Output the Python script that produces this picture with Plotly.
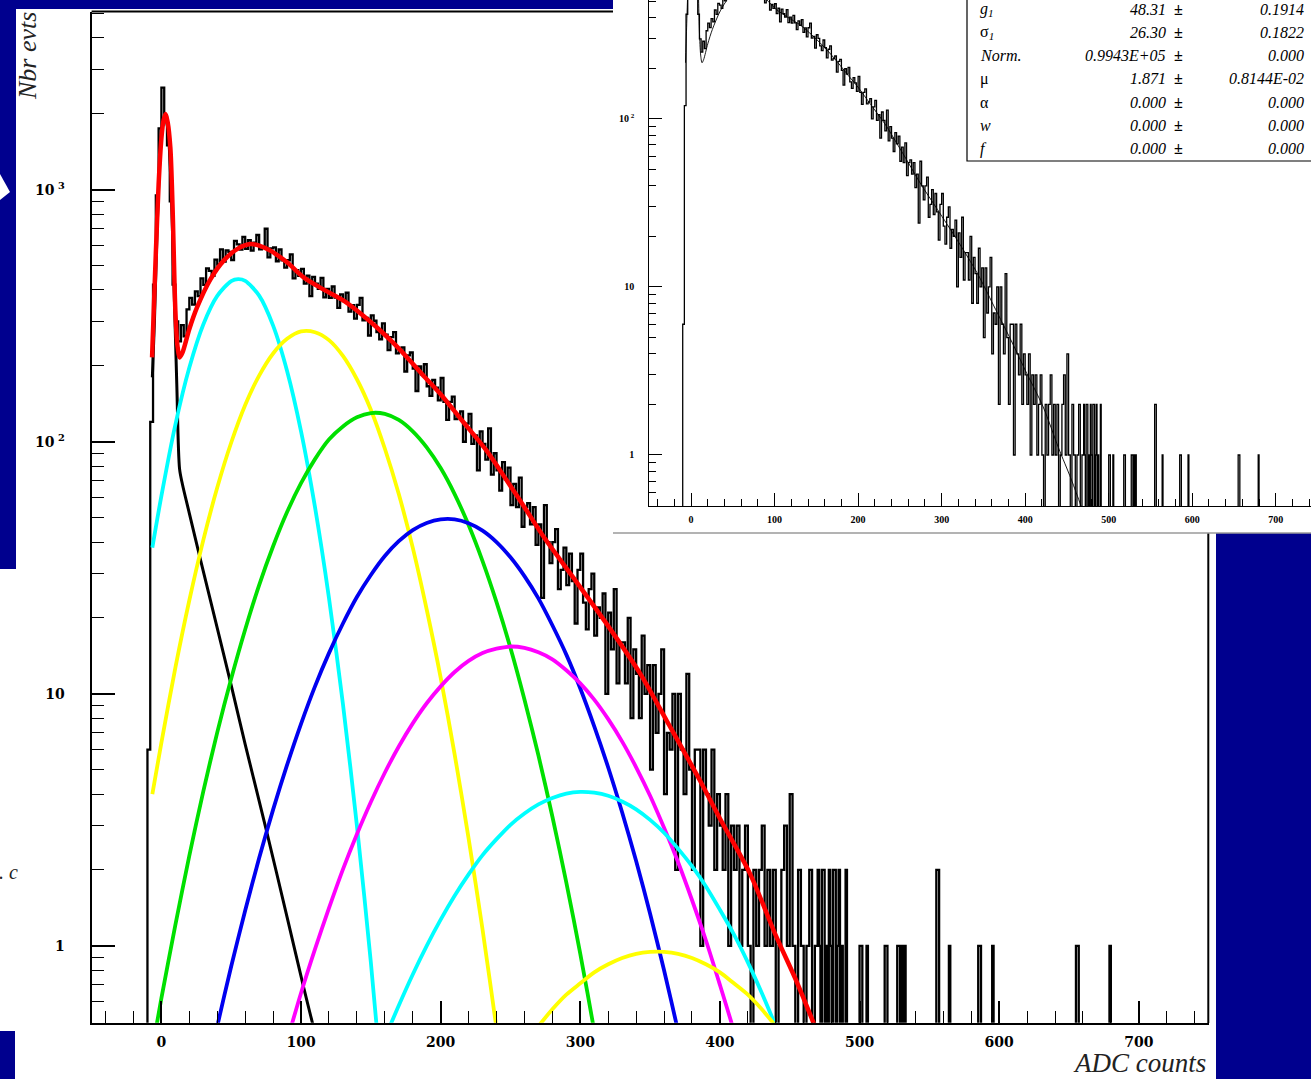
import plotly.graph_objects as go

W, H = 1311, 1079

# ---------------- data ----------------
# ADC histogram, 2-ADC-wide bins starting at -10 (counts per 1-ADC bin)
dense_lo = -10
dense_width = 2
dense_counts = [
    6, 120, 420, 950, 1750, 2540, 1950, 1500, 900, 420,
    300, 250, 290, 262, 335, 372, 350, 395, 378, 445,
    419, 487, 476, 455, 528, 505, 580, 518, 574, 566,
    526, 627, 607, 578, 650, 582, 630, 573, 616, 661,
    580, 591, 700, 539, 585, 590, 520, 579, 524, 491,
    525, 554, 445, 480, 455, 485, 424, 456, 378, 451,
    424, 404, 447, 374, 404, 372, 413, 373, 340, 384,
    361, 390, 328, 348, 308, 349, 372, 303, 310, 264,
    317, 302, 272, 255, 295, 266, 231, 260, 272, 224,
    229, 237, 190, 220, 226, 195, 159, 199, 185, 203,
    166, 152, 176, 164, 146, 179, 144, 122, 144, 151,
    123, 126, 132, 100, 118, 129, 98, 106, 77, 110,
    98, 85, 113, 74, 90, 77, 64, 83, 71, 79,
    56, 68, 55, 72, 46, 55, 57, 47, 55, 39,
    47, 24, 56, 40, 33, 40, 45, 26, 31, 38,
    27, 36, 28, 19, 31, 36, 23, 18, 26, 30,
    17, 22, 20, 25, 10, 21, 15, 26, 11, 16,
    16, 11, 20, 8, 15, 12, 8, 17, 10, 13,
    5, 13, 7, 10, 15, 4, 7, 6, 10, 2,
    10, 6, 4, 12, 5, 2, 6, 6, 1, 6,
    4, 3, 6, 2, 4, 3, 2, 4, 1, 3,
    2, 3, 1, 2, 3, 1, 0, 2, 1, 2,
    3, 1, 2, 1, 2, 0, 1, 2, 3, 1,
    4, 1, 0, 2, 1, 0, 1, 2, 0, 1,
]
# sparse tail: single 1-ADC bins (lower edge) and their counts
tail_adc = [470, 471, 473, 474, 476, 478, 479, 481, 482, 484, 485, 487, 490,
            500, 501, 505, 518, 519, 527, 528, 530, 532, 555, 556, 564,
            585, 586, 595, 655, 656, 679]
tail_counts = [2, 1, 2, 2, 1, 2, 1, 2, 2, 1, 2, 1, 2,
               1, 1, 1, 1, 1, 1, 1, 1, 1, 2, 2, 1,
               1, 1, 1, 1, 1, 1]

# fit components (sampled along each drawn curve)
ped_x = [-6.5, -5, -3, -1, 1, 3, 5, 7, 9, 11, 13, 15, 20, 28, 40, 50, 60, 75, 90, 102, 110, 120]
ped_y = [180, 300, 720, 1350, 1820, 1920, 1650, 1000, 420, 170, 78, 68, 52, 34, 18.2, 10.8, 6.3, 2.9, 1.3, 0.68, 0.45, 0.27]

pe1_x = [-6.5, 0, 10, 20, 30, 40, 50, 55, 60, 70, 80, 90, 100, 110, 120, 130, 140, 150, 160]
pe1_y = [38, 61, 117, 197, 292, 379, 434, 442, 435, 380, 289, 191, 110, 55, 24, 9.1, 3.0, 0.86, 0.21]

pe2_x = [-6.5, 0, 10, 20, 30, 40, 50, 60, 70, 80, 90, 100, 110, 120, 130, 140, 150, 160, 170,
         180, 190, 200, 210, 220, 230, 240, 250]
pe2_y = [4.0, 6.4, 12.7, 23.5, 40.7, 65.8, 99.3, 140, 183, 224, 256, 274, 272, 253, 219, 177, 134, 94, 62,
         38, 21.6, 11.6, 5.75, 2.67, 1.16, 0.47, 0.18]

pe3_x = [-6.5, 0, 10, 20, 30, 40, 50, 60, 70, 80, 90, 100, 110, 120, 130, 140, 150, 160, 170, 180,
         190, 200, 210, 220, 230, 240, 250, 260, 270, 280, 290, 300, 310, 320]
pe3_y = [0.39, 0.62, 1.21, 2.28, 4.10, 7.03, 11.5, 18.0, 27.0, 38.5, 52.6, 68.5, 85.3, 102, 115, 125, 130, 129, 122, 110,
         95, 78.6, 62, 46.7, 33.6, 23.1, 15.2, 9.5, 5.7, 3.26, 1.78, 0.93, 0.46, 0.22]

pe4_x = [30, 40, 50, 60, 70, 80, 90, 100, 110, 120, 130, 140, 150, 160, 170, 180, 190, 200, 210,
         220, 230, 240, 250, 260, 270, 280, 290, 300, 310, 320, 330, 340, 350, 360, 370, 380]
pe4_y = [0.27, 0.48, 0.83, 1.38, 2.23, 3.47, 5.22, 7.60, 10.7, 14.5, 19.0, 24.2, 29.6, 35.2, 40.3, 44.6, 47.6, 49.2, 49.2,
         47.5, 44.4, 40.0, 34.8, 29.3, 23.9, 18.7, 14.3, 10.5, 7.43, 5.10, 3.38, 2.17, 1.34, 0.80, 0.46, 0.26]

pe5_x = [90, 100, 110, 120, 130, 140, 150, 160, 170, 180, 190, 200, 210, 220, 230, 240, 250,
         260, 270, 280, 290, 300, 310, 320, 330, 340, 350, 360, 370, 380, 390, 400, 410, 420]
pe5_y = [0.42, 0.65, 0.97, 1.41, 2.01, 2.77, 3.72, 4.86, 6.18, 7.63, 9.17, 10.7, 12.2, 13.5, 14.5, 15.1, 15.4,
         15.2, 14.6, 13.7, 12.4, 11.0, 9.48, 7.93, 6.46, 5.11, 3.94, 2.94, 2.15, 1.52, 1.05, 0.70, 0.46, 0.29]

pe6_x = [160, 170, 180, 190, 200, 210, 220, 230, 240, 250, 260, 270, 280, 290, 300,
         310, 320, 330, 340, 350, 360, 370, 380, 390, 400, 410, 420, 430, 440, 450]
pe6_y = [0.43, 0.58, 0.77, 1.00, 1.27, 1.58, 1.92, 2.29, 2.65, 3.02, 3.35, 3.64, 3.86, 4.02, 4.08,
         4.05, 3.94, 3.74, 3.48, 3.16, 2.81, 2.43, 2.07, 1.72, 1.39, 1.11, 0.86, 0.65, 0.48, 0.35]

pe7_x = [260, 270, 280, 290, 300, 310, 320, 330, 340, 350, 360, 370, 380, 390, 400, 410, 420, 430, 440, 450]
pe7_y = [0.41, 0.48, 0.56, 0.64, 0.71, 0.785, 0.845, 0.895, 0.93, 0.946, 0.946, 0.93, 0.895, 0.845, 0.785,
         0.71, 0.64, 0.56, 0.48, 0.41]

fit_x = [-6.7, -5.5, -4, -2, 0, 1.5, 3, 4.5, 6.4, 8, 10, 11.5, 13.1, 15, 20, 25.5, 35, 44.6, 55, 63.7,
         70, 78, 90, 101.9, 115, 130.5, 145, 154.4, 165, 176, 188, 199.7, 215, 233, 247.5, 260, 275,
         295, 319, 343, 362, 385.8, 400, 421.6, 440, 455, 466.7, 475]
fit_y = [216, 330, 560, 1050, 1600, 1880, 1995, 1850, 1468, 850, 330, 240, 216, 225, 280, 341, 440, 523, 585, 609,
         600, 573, 515, 449, 405, 363, 315, 284, 250, 216, 182, 155, 122, 92, 70, 55, 41,
         28.9, 18.9, 12, 7.8, 4.52, 3.2, 1.93, 1.1, 0.72, 0.5, 0.38]

x_ticks = [0, 100, 200, 300, 400, 500, 600, 700]
y_ticks = [1, 10, 100, 1000]
y_ticktext = ["1", "10", "10<sup> 2</sup>", "10<sup> 3</sup>"]
inset_y_ticks = [1, 10, 100]
inset_y_ticktext = ["1", "10", "10<sup> 2</sup>"]

stat_names = ["<i>g</i><sub><i>1</i></sub>", "σ<sub><i>1</i></sub>", "<i>Norm.</i>", "μ", "α", "<i>w</i>", "<i>f</i>"]
stat_values = ["48.31", "26.30", "0.9943E+05", "1.871", "0.000", "0.000", "0.000"]
stat_errors = ["0.1914", "0.1822", "0.000", "0.8144E-02", "0.000", "0.000", "0.000"]

# ---------------- build histogram step line ----------------
XMIN, XMAX = -50, 750
counts = [0] * (XMAX - XMIN)
for i, c in enumerate(dense_counts):
    lo = dense_lo + i * dense_width
    for k in range(dense_width):
        counts[lo + k - XMIN] = c
for a, c in zip(tail_adc, tail_counts):
    counts[a - XMIN] = c
FLOOR = 1e-3  # empty bins drop below the axis
hist_x = list(range(XMIN, XMAX + 1))
hist_y = [c if c > 0 else FLOOR for c in counts]
hist_y = hist_y + [hist_y[-1]]

NAVY = "#00008E"


def px(x):
    return x / W


def py(y):
    return 1 - y / H


fig = go.Figure()

# main histogram
fig.add_trace(go.Scatter(x=hist_x, y=hist_y, mode="lines", line=dict(color="black", width=2.3, shape="hv"),
                         xaxis="x", yaxis="y", hoverinfo="skip"))
comps = [
    (ped_x, ped_y, "black", 3),
    (pe1_x, pe1_y, "#00FFFF", 3.8),
    (pe2_x, pe2_y, "#FFFF00", 3.8),
    (pe3_x, pe3_y, "#00E000", 3.8),
    (pe4_x, pe4_y, "#0000F0", 3.8),
    (pe5_x, pe5_y, "#FF00FF", 3.8),
    (pe6_x, pe6_y, "#00FFFF", 3.8),
    (pe7_x, pe7_y, "#FFFF00", 3.8),
]
for cx, cy, col, lw in comps:
    fig.add_trace(go.Scatter(x=cx, y=cy, mode="lines",
                             line=dict(color=col, width=lw, shape="spline", smoothing=0.8),
                             xaxis="x", yaxis="y", hoverinfo="skip"))
fig.add_trace(go.Scatter(x=fit_x, y=fit_y, mode="lines",
                         line=dict(color="#FF0000", width=4.5, shape="spline", smoothing=0.8),
                         xaxis="x", yaxis="y", hoverinfo="skip"))

# inset
fig.add_trace(go.Scatter(x=hist_x, y=hist_y, mode="lines", line=dict(color="black", width=1.3, shape="hv"),
                         xaxis="x2", yaxis="y2", hoverinfo="skip"))
fig.add_trace(go.Scatter(x=fit_x, y=fit_y, mode="lines",
                         line=dict(color="black", width=0.9, shape="spline", smoothing=0.8),
                         xaxis="x2", yaxis="y2", hoverinfo="skip"))

main_minor_y = [0.6, 0.7, 0.8, 0.9, 2, 3, 4, 5, 6, 7, 8, 9, 20, 30, 40, 50, 60, 70, 80, 90,
                200, 300, 400, 500, 600, 700, 800, 900, 2000, 3000, 4000, 5000]

tick_font_main = dict(family="DejaVu Serif", size=14, color="black", weight="bold")
tick_font_inset = dict(family="Liberation Serif", size=10, color="black", weight="bold")

fig.update_layout(
    width=W, height=H, margin=dict(l=0, r=0, t=0, b=0),
    paper_bgcolor="white", plot_bgcolor="rgba(0,0,0,0)", showlegend=False,
    xaxis=dict(domain=[px(91.6), px(1208.6)], range=[XMIN, XMAX], anchor="y",
               showline=True, linecolor="black", linewidth=2, mirror=False,
               ticks="inside", ticklen=22, tickwidth=1.6, tickcolor="black",
               tickmode="array", tickvals=x_ticks, ticktext=[str(v) for v in x_ticks],
               tickfont=tick_font_main, ticklabelstandoff=5,
               minor=dict(ticks="inside", ticklen=12, tickwidth=1.4, tickcolor="black", dtick=20, tick0=0,
                          showgrid=False),
               showgrid=False, zeroline=False),
    yaxis=dict(domain=[py(1022.7), py(11.5)], type="log", range=[-0.305, 3.707], anchor="x",
               showline=True, linecolor="black", linewidth=2, mirror=False,
               ticks="inside", ticklen=23, tickwidth=1.6, tickcolor="black",
               tickmode="array", tickvals=y_ticks, ticktext=y_ticktext,
               tickfont=tick_font_main, ticklabelstandoff=22,
               minor=dict(ticks="inside", ticklen=12, tickwidth=1.4, tickcolor="black",
                          tickmode="array", tickvals=main_minor_y, showgrid=False),
               showgrid=False, zeroline=False),
    xaxis2=dict(domain=[px(649.3), 1.0], range=[-50, 742.2], anchor="y2",
                showline=True, linecolor="black", linewidth=1.3,
                ticks="inside", ticklen=13, tickwidth=1.1, tickcolor="black",
                tickmode="array", tickvals=x_ticks, ticktext=[str(v) for v in x_ticks],
                tickfont=tick_font_inset, ticklabelstandoff=4,
                minor=dict(ticks="inside", ticklen=7, tickwidth=1, tickcolor="black", dtick=20, tick0=0,
                           showgrid=False),
                showgrid=False, zeroline=False),
    yaxis2=dict(domain=[py(506), 1.0], type="log", range=[-0.3036, 2.708], anchor="x2",
                showline=True, linecolor="black", linewidth=1.3,
                ticks="inside", ticklen=13, tickwidth=1.1, tickcolor="black",
                tickmode="array", tickvals=inset_y_ticks, ticktext=inset_y_ticktext,
                tickfont=tick_font_inset, ticklabelstandoff=12,
                minor=dict(ticks="inside", ticklen=7, tickwidth=1, tickcolor="black",
                           tickmode="array", tickvals=main_minor_y, showgrid=False),
                showgrid=False, zeroline=False),
)

shapes = []


def rect(x0, y0, x1, y1, fill, layer="below", line=None):
    d = dict(type="rect", xref="paper", yref="paper", x0=px(x0), x1=px(x1), y0=py(y1), y1=py(y0),
             fillcolor=fill, layer=layer, line=dict(width=0) if line is None else line)
    shapes.append(d)


def seg(x0, y0, x1, y1, color, width, layer="below"):
    shapes.append(dict(type="line", xref="paper", yref="paper", x0=px(x0), x1=px(x1), y0=py(y0), y1=py(y1),
                       line=dict(color=color, width=width), layer=layer))


# slide background pieces
rect(0, 0, 613, 9, NAVY)
rect(0, 0, 16, 569, NAVY)
rect(0, 1031, 15, H, NAVY)
rect(1216, 533, W, H, NAVY)
# small white arrow mark on the left strip
shapes.append(dict(type="path", xref="paper", yref="paper",
                   path=f"M {px(0)} {py(174)} L {px(10)} {py(192)} L {px(0)} {py(200)} Z",
                   fillcolor="white", line=dict(width=0), layer="below"))
# main frame (top and right parts not hidden by the inset)
seg(91.6, 11.5, 613, 11.5, "black", 2)
seg(1208.3, 533, 1208.3, 1023, "black", 2)
# inset lower border
seg(613, 533, W, 533, "#9a9a9a", 1.5)
# stats box
rect(967, -3, W + 3, 161, "white", layer="above", line=dict(color="black", width=1.2))
fig.update_layout(shapes=shapes)

ann = []
ann.append(dict(text="<i>Nbr evts</i>", x=px(28), y=py(10), xref="paper", yref="paper", xanchor="center",
                yanchor="top", textangle=-90, showarrow=False,
                font=dict(family="Liberation Serif", size=26, color="#222222")))
ann.append(dict(text="<i>ADC counts</i>", x=px(1208), y=py(1063), xref="paper", yref="paper", xanchor="right",
                yanchor="middle", showarrow=False,
                font=dict(family="Liberation Serif", size=27, color="#222222")))
ann.append(dict(text="<i>. c</i>", x=px(-3), y=py(872), xref="paper", yref="paper", xanchor="left",
                yanchor="middle", showarrow=False,
                font=dict(family="Liberation Serif", size=20, color="#222222")))

stat_font = dict(family="Liberation Serif", size=16, color="black")
for i, (nm, v, e) in enumerate(zip(stat_names, stat_values, stat_errors)):
    yy = py(9 + 23.3 * i)
    ann.append(dict(text=nm, x=px(978), y=yy, xref="paper", yref="paper", xanchor="left", yanchor="middle",
                    showarrow=False, font=stat_font))
    ann.append(dict(text=f"<i>{v}</i>", x=px(1168), y=yy, xref="paper", yref="paper", xanchor="right",
                    yanchor="middle", showarrow=False, font=stat_font))
    ann.append(dict(text="<b>±</b>", x=px(1178), y=yy, xref="paper", yref="paper", xanchor="center",
                    yanchor="middle", showarrow=False, font=stat_font))
    ann.append(dict(text=f"<i>{e}</i>", x=px(1306), y=yy, xref="paper", yref="paper", xanchor="right",
                    yanchor="middle", showarrow=False, font=stat_font))
fig.update_layout(annotations=ann)

fig.write_html("out.html", config={"displayModeBar": False},
               post_script="document.body.style.margin='0px';document.body.style.overflow='hidden';")
